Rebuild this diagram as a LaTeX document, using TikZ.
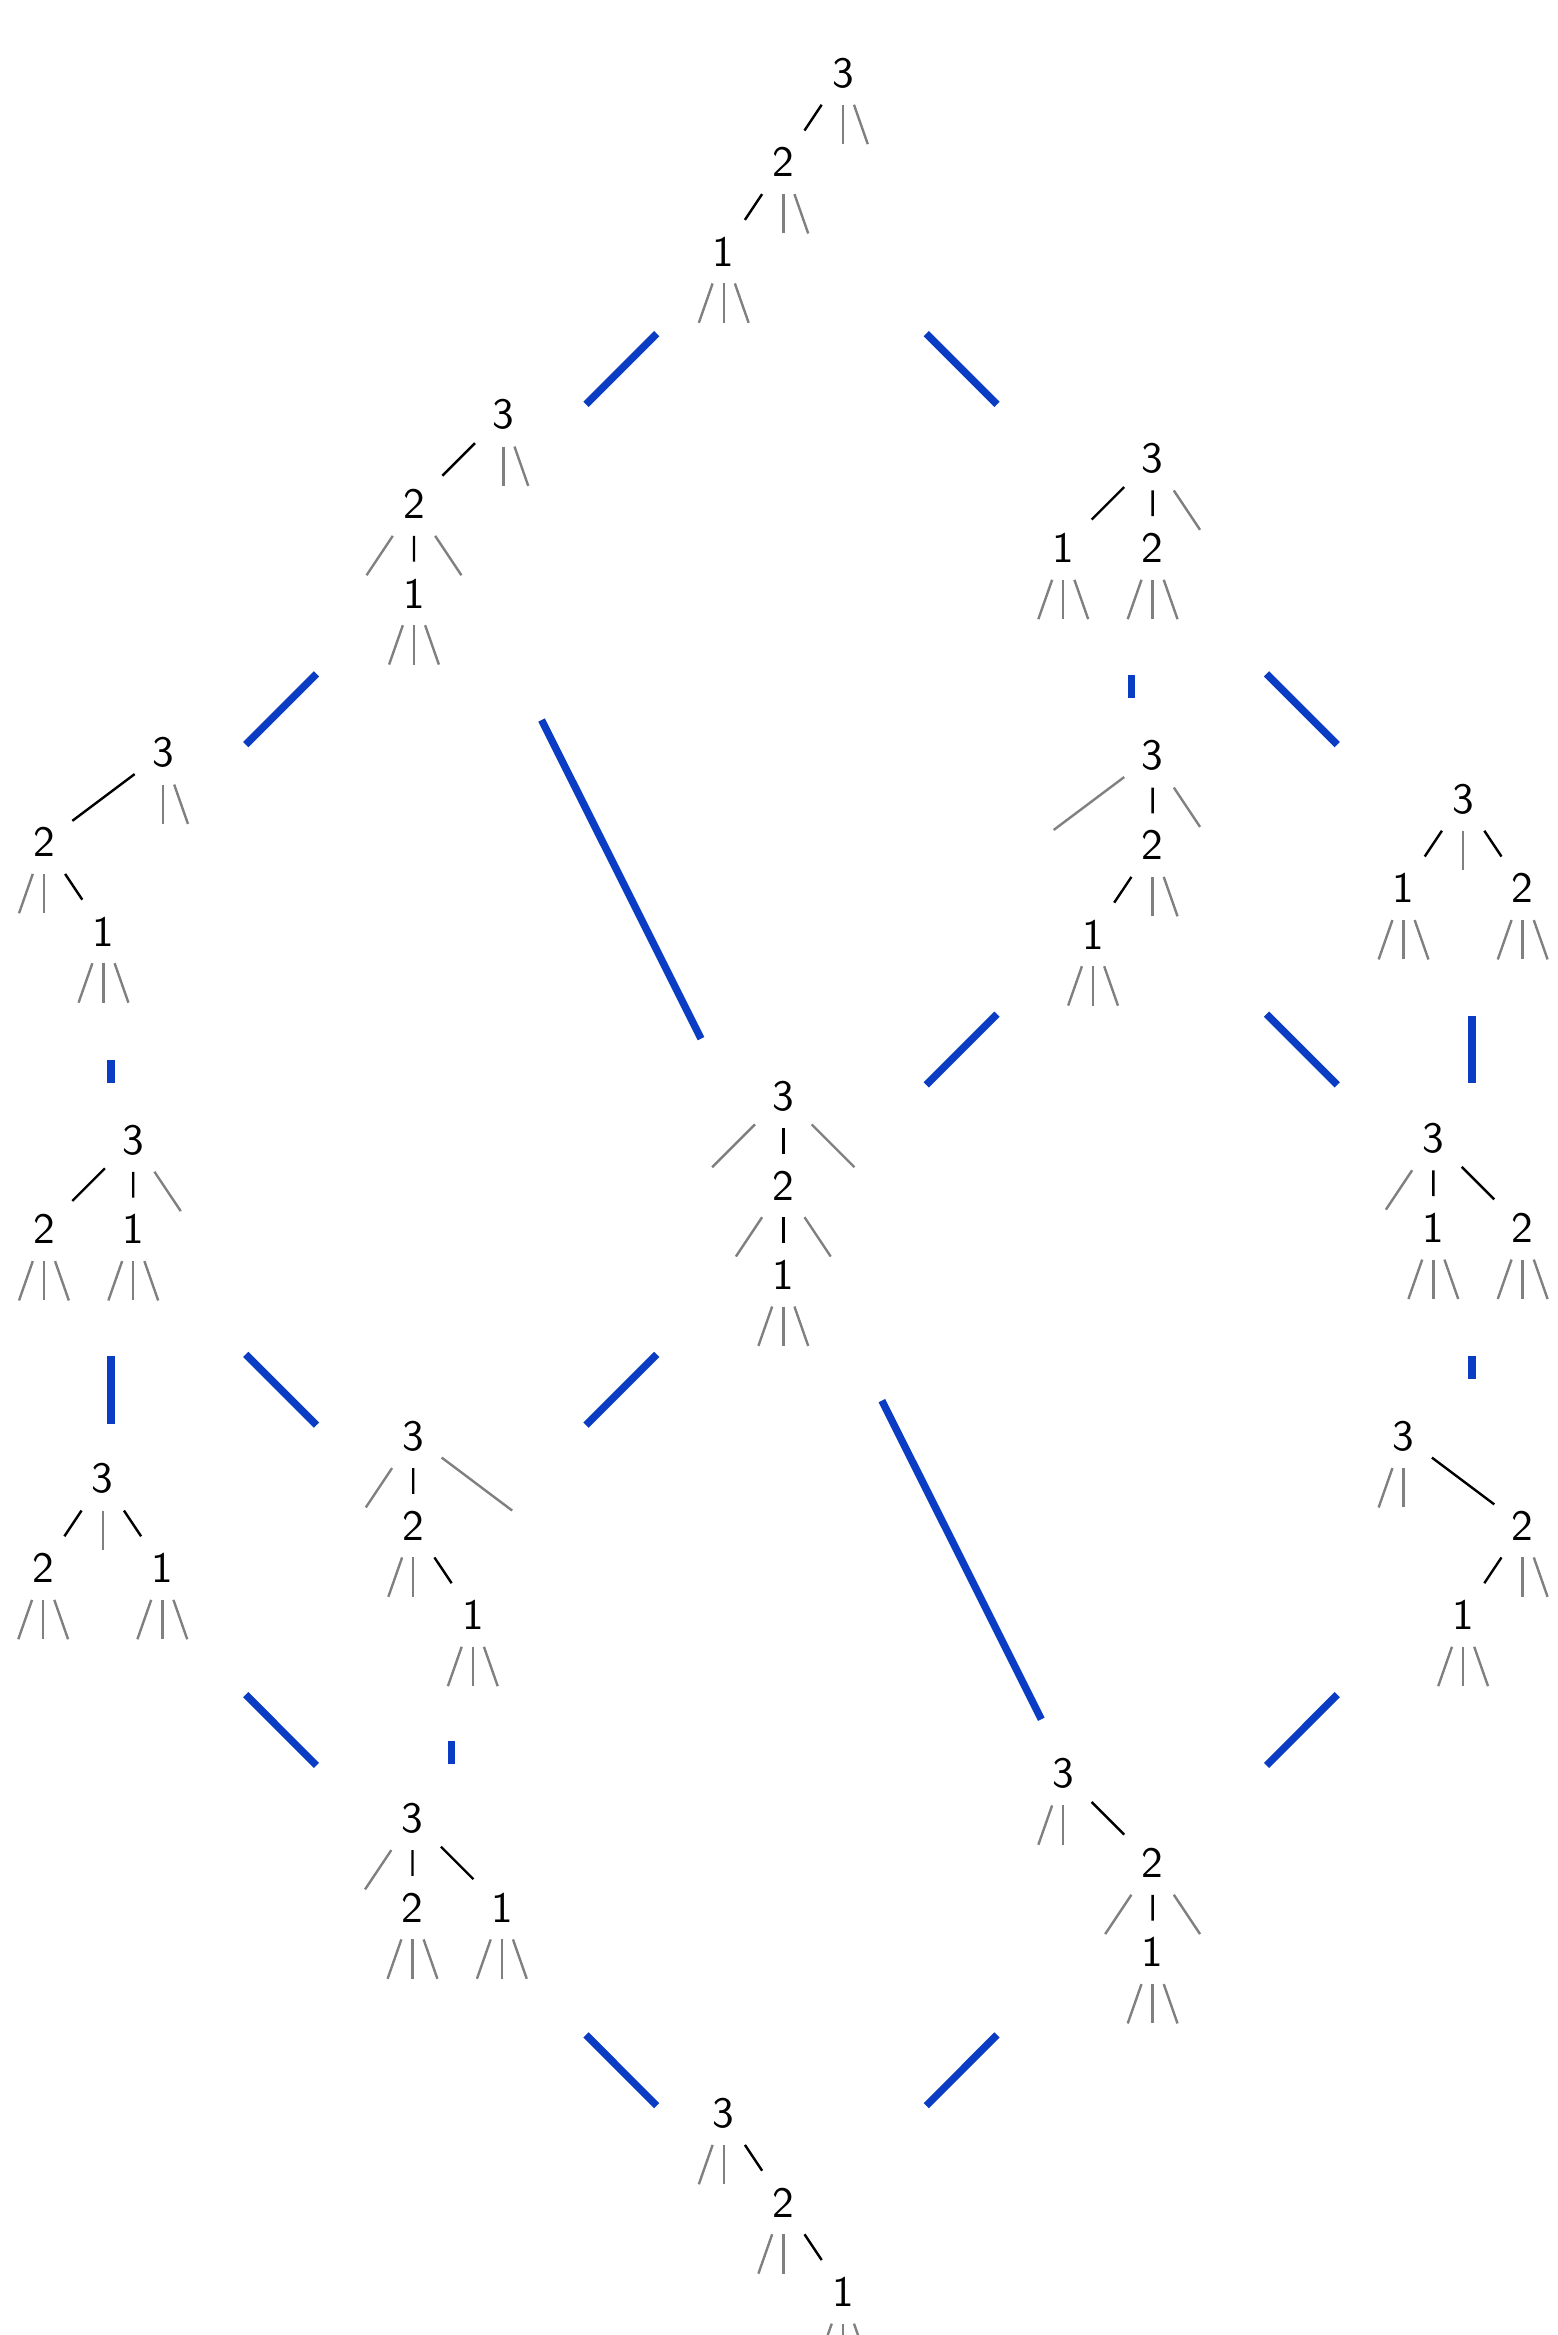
\documentclass[tikz,border=0pt]{standalone}
\usetikzlibrary{calc}
\definecolor{linkblue}{RGB}{10,60,196}
% gray stubs from a node to its empty leaves (#2 = x offsets)
\newcommand{\leafstubs}[2]{%
  \foreach \dx [count=\k] in {#2}{%
    \node[leaf] (#1-l\k) at ([shift={(\dx,60)}]#1.center) {};
    \draw[stub] (#1) -- (#1-l\k);
  }%
}
\begin{document}
\begin{tikzpicture}[x=0.3724pt, y=-0.3724pt,
    lab/.style={font=\sffamily\fontsize{10.8}{12}\selectfont, inner sep=0pt, minimum width=13.8pt, minimum height=15.5pt},
    leaf/.style={inner sep=0pt, minimum width=9.7pt, minimum height=8.7pt},
    branch/.style={line width=0.6pt, black},
    stub/.style={line width=0.6pt, gray},
    box/.style={inner sep=0pt, outer sep=0pt, minimum width=67.4pt, minimum height=68.1pt},
    tallbox/.style={box, minimum height=90.5pt},
    link/.style={line width=1.85pt, linkblue}]
  \useasboundingbox (0,0) rectangle (1046,1568);

  % 1. Baum a (oben)
  \node[tallbox] (ta) at (531.5,133.5) {};
  \node[lab] (a3) at (566,49) {3};
  \node[lab] (a2) at (526,109) {2};
  \node[lab] (a1) at (486,169) {1};
  \draw[branch] (a3) -- (a2) (a2) -- (a1);
  \leafstubs{a3}{0,21} \leafstubs{a2}{0,21} \leafstubs{a1}{-21,0,21}

  % 2. Baum b
  \node[tallbox] (tb) at (303,362) {};
  \node[lab] (b3) at (338,278.5) {3};
  \node[lab] (b2) at (278,338.5) {2};
  \node[lab] (b1) at (278,398.5) {1};
  \draw[branch] (b3) -- (b2) (b2) -- (b1);
  \leafstubs{b3}{0,21} \leafstubs{b2}{-40,40} \leafstubs{b1}{-21,0,21}

  % 3. Baum c
  \node[box] (tc) at (760,362) {};
  \node[lab] (c3) at (774,308) {3};
  \node[lab] (c1) at (714,368) {1};
  \node[lab] (c2) at (774,368) {2};
  \draw[branch] (c3) -- (c1) (c3) -- (c2);
  \leafstubs{c3}{40} \leafstubs{c1}{-21,0,21} \leafstubs{c2}{-21,0,21}

  % 4. Baum d
  \node[tallbox] (td) at (74.5,590.5) {};
  \node[lab] (d3) at (109.5,505.5) {3};
  \node[lab] (d2) at (29.5,565.5) {2};
  \node[lab] (d1) at (69.5,625.5) {1};
  \draw[branch] (d3) -- (d2) (d2) -- (d1);
  \leafstubs{d3}{0,21} \leafstubs{d2}{-21,0} \leafstubs{d1}{-21,0,21}

  % 5. Baum e
  \node[tallbox] (te) at (760,590.5) {};
  \node[lab] (e3) at (774,507.5) {3};
  \node[lab] (e2) at (774,567.5) {2};
  \node[lab] (e1) at (734,627.5) {1};
  \draw[branch] (e3) -- (e2) (e2) -- (e1);
  \leafstubs{e3}{-80,40} \leafstubs{e2}{0,21} \leafstubs{e1}{-21,0,21}

  % 6. Baum f
  \node[box] (tf) at (988.5,590.5) {};
  \node[lab] (f3) at (982.5,536.5) {3};
  \node[lab] (f1) at (942.5,596.5) {1};
  \node[lab] (f2) at (1022.5,596.5) {2};
  \draw[branch] (f3) -- (f1) (f3) -- (f2);
  \leafstubs{f3}{0} \leafstubs{f1}{-21,0,21} \leafstubs{f2}{-21,0,21}

  % 7. Baum g (Mitte)
  \node[tallbox] (tg) at (531.5,819) {};
  \node[lab] (g3) at (526,736) {3};
  \node[lab] (g2) at (526,796) {2};
  \node[lab] (g1) at (526,856) {1};
  \draw[branch] (g3) -- (g2) (g2) -- (g1);
  \leafstubs{g3}{-60,60} \leafstubs{g2}{-40,40} \leafstubs{g1}{-21,0,21}

  % 8. Baum h
  \node[box] (th) at (74.5,819) {};
  \node[lab] (h3) at (89.5,765.5) {3};
  \node[lab] (h2) at (29.5,825.5) {2};
  \node[lab] (h1) at (89.5,825.5) {1};
  \draw[branch] (h3) -- (h2) (h3) -- (h1);
  \leafstubs{h3}{40} \leafstubs{h2}{-21,0,21} \leafstubs{h1}{-21,0,21}

  % 9. Baum i
  \node[box] (ti) at (988.5,819) {};
  \node[lab] (i3) at (962.5,764.5) {3};
  \node[lab] (i1) at (962.5,824.5) {1};
  \node[lab] (i2) at (1022.5,824.5) {2};
  \draw[branch] (i3) -- (i1) (i3) -- (i2);
  \leafstubs{i3}{-40} \leafstubs{i1}{-21,0,21} \leafstubs{i2}{-21,0,21}

  % 10. Baum j
  \node[box] (tj) at (74.5,1047.5) {};
  \node[lab] (j3) at (69,993) {3};
  \node[lab] (j2) at (29,1053) {2};
  \node[lab] (j1) at (109,1053) {1};
  \draw[branch] (j3) -- (j2) (j3) -- (j1);
  \leafstubs{j3}{0} \leafstubs{j2}{-21,0,21} \leafstubs{j1}{-21,0,21}

  % 11. Baum k
  \node[tallbox] (tk) at (303,1047.5) {};
  \node[lab] (k3) at (277.5,964.5) {3};
  \node[lab] (k2) at (277.5,1024.5) {2};
  \node[lab] (k1) at (317.5,1084.5) {1};
  \draw[branch] (k3) -- (k2) (k2) -- (k1);
  \leafstubs{k3}{-40,80} \leafstubs{k2}{-21,0} \leafstubs{k1}{-21,0,21}

  % 12. Baum l
  \node[tallbox] (tl) at (988.5,1047.5) {};
  \node[lab] (l3) at (942.5,964.5) {3};
  \node[lab] (l2) at (1022.5,1024.5) {2};
  \node[lab] (l1) at (982.5,1084.5) {1};
  \draw[branch] (l3) -- (l2) (l2) -- (l1);
  \leafstubs{l3}{-21,0} \leafstubs{l2}{0,21} \leafstubs{l1}{-21,0,21}

  % 13. Baum m
  \node[box] (tm) at (303,1276) {};
  \node[lab] (m3) at (277,1221) {3};
  \node[lab] (m2) at (277,1281) {2};
  \node[lab] (m1) at (337,1281) {1};
  \draw[branch] (m3) -- (m2) (m3) -- (m1);
  \leafstubs{m3}{-40} \leafstubs{m2}{-21,0,21} \leafstubs{m1}{-21,0,21}

  % 14. Baum n
  \node[tallbox] (tn) at (760,1276) {};
  \node[lab] (n3) at (714,1191) {3};
  \node[lab] (n2) at (774,1251) {2};
  \node[lab] (n1) at (774,1311) {1};
  \draw[branch] (n3) -- (n2) (n2) -- (n1);
  \leafstubs{n3}{-21,0} \leafstubs{n2}{-40,40} \leafstubs{n1}{-21,0,21}

  % 15. Baum o (unten)
  \node[tallbox] (to) at (531.5,1504.5) {};
  \node[lab] (o3) at (486,1419) {3};
  \node[lab] (o2) at (526,1479) {2};
  \node[lab] (o1) at (566,1539) {1};
  \draw[branch] (o3) -- (o2) (o2) -- (o1);
  \leafstubs{o3}{-21,0} \leafstubs{o2}{-21,0} \leafstubs{o1}{-21,0,21}

  % 16. Verbindungen
  \draw[link] (ta) -- (tb);
  \draw[link] (ta) -- (tc);
  \draw[link] (tb) -- (td);
  \draw[link] (tb) -- (tg);
  \draw[link] (tc) -- (te);
  \draw[link] (tc) -- (tf);
  \draw[link] (td) -- (th);
  \draw[link] (te) -- (tg);
  \draw[link] (te) -- (ti);
  \draw[link] (tf) -- (ti);
  \draw[link] (tg) -- (tk);
  \draw[link] (tg) -- (tn);
  \draw[link] (th) -- (tj);
  \draw[link] (th) -- (tk);
  \draw[link] (ti) -- (tl);
  \draw[link] (tj) -- (tm);
  \draw[link] (tk) -- (tm);
  \draw[link] (tl) -- (tn);
  \draw[link] (tm) -- (to);
  \draw[link] (tn) -- (to);
\end{tikzpicture}
\end{document}
